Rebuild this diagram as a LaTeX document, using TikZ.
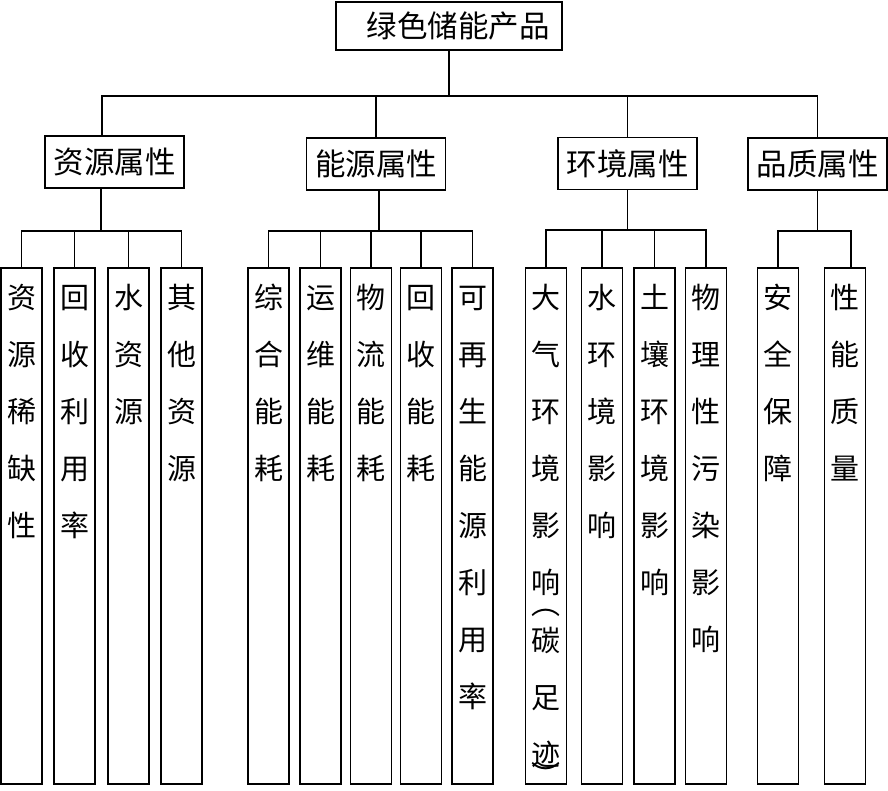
\documentclass[tikz,border=0pt]{standalone}
\usepackage{fontspec}
\setmainfont{Noto Sans CJK SC}
\newcommand{\leaffont}{\fontsize{29pt}{57pt}\selectfont}
\newcommand{\headfont}{\fontsize{30.5pt}{36pt}\selectfont}

\begin{document}
\begin{tikzpicture}[x=1pt, y=-1pt, line width=1.8pt,
  box/.style={draw, inner sep=0pt, font=\headfont},
  attr/.style={box, minimum width=139pt, minimum height=52pt},
  leaf/.style={draw, inner sep=0pt, anchor=north, text width=41pt,
    align=center, font=\leaffont, text height=41pt, text depth=475pt}]
  \useasboundingbox (0,0) rectangle (888,791);

  % Nodes
  \node[box, minimum width=226pt, minimum height=48pt] (root) at (449,26)
    {\hspace*{18pt}绿色储能产品};
  \node[attr] (zy) at (114.5,162) {资源属性};
  \node[attr] (ny) at (376,164) {能源属性};
  \node[attr] (hj) at (627.5,163.5) {环境属性};
  \node[attr] (pz) at (817.5,164) {品质属性};

  \node[leaf] (zy1) at (21.5,267) {资\\源\\稀\\缺\\性};
  \node[leaf] (zy2) at (74.5,267) {回\\收\\利\\用\\率};
  \node[leaf] (zy3) at (128.5,267) {水\\资\\源};
  \node[leaf] (zy4) at (181.5,267) {其\\他\\资\\源};

  \node[leaf] (ny1) at (268.5,267) {综\\合\\能\\耗};
  \node[leaf] (ny2) at (320.5,267) {运\\维\\能\\耗};
  \node[leaf] (ny3) at (371,267) {物\\流\\能\\耗};
  \node[leaf] (ny4) at (421,267) {回\\收\\能\\耗};
  \node[leaf] (ny5) at (472.5,267) {可\\再\\生\\能\\源\\利\\用\\率};

  \node[leaf] (hj1) at (546,267)
    {大\\气\\环\\境\\影\\响\\[-36pt]︵\\[-20pt]碳\\足\\迹\\[-36pt]︶};
  \node[leaf] (hj2) at (602,267) {水\\环\\境\\影\\响};
  \node[leaf] (hj3) at (654.5,267) {土\\壤\\环\\境\\影\\响};
  \node[leaf] (hj4) at (706,267) {物\\理\\性\\污\\染\\影\\响};

  \node[leaf] (pz1) at (778,267) {安\\全\\保\\障};
  \node[leaf] (pz2) at (845,267) {性\\能\\质\\量};

  % Manually draw edges to get the structure right
  \draw (root.south) -- ++(0,45) coordinate (top);
  \draw (top) -| ([xshift=-12.5pt]zy.north);
  \draw (top) -| (ny.north);
  \draw (top) -| (hj.north);
  \draw (top) -| (pz.north);

  \draw ([xshift=-13.5pt]zy.south) -- ++(0,42) coordinate (zyb);
  \foreach \i in {1,...,4} \draw (zyb) -| (zy\i.north);
  \draw ([xshift=3pt]ny.south) -- ++(0,40) coordinate (nyb);
  \foreach \i in {1,...,5} \draw (nyb) -| (ny\i.north);
  \draw (hj.south) -- ++(0,40) coordinate (hjb);
  \foreach \i in {1,...,4} \draw (hjb) -| (hj\i.north);
  \draw (pz.south) -- ++(0,40) coordinate (pzb);
  \draw (pzb) -| (pz1.north);
  \draw (pzb) -| ([xshift=6pt]pz2.north);
\end{tikzpicture}
\end{document}
